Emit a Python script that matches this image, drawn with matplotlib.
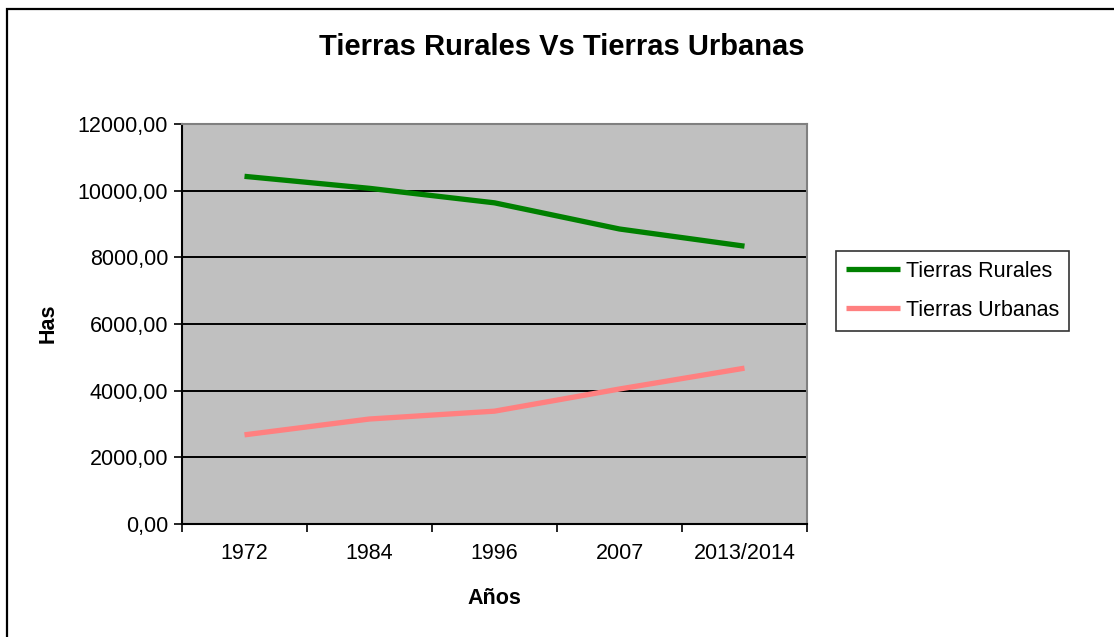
import matplotlib.pyplot as plt
from matplotlib.patches import Rectangle
from matplotlib.ticker import FixedLocator, FuncFormatter

years = ["1972", "1984", "1996", "2007", "2013/2014"]
rurales = [10430, 10070, 9635, 8850, 8335]
urbanas = [2675, 3150, 3385, 4050, 4675]

plt.rcParams['font.family'] = ['Liberation Sans', 'DejaVu Sans']

W, H = 1114, 637
fig = plt.figure(figsize=(W / 100, H / 100), dpi=100)
ax = fig.add_axes([182 / W, 1 - 524 / H, 625 / W, 400 / H])

# outer chart frame (runs off the right and bottom edge)
fig.patches.append(Rectangle((7 / W, -0.05), 1.1, 1.05 - 8.5 / H,
                             transform=fig.transFigure, fill=False,
                             edgecolor="black", linewidth=1.6))

x = range(len(years))
ax.plot(x, rurales, color="#008000", linewidth=3.8, label="Tierras Rurales",
        solid_capstyle="butt")
ax.plot(x, urbanas, color="#FF8080", linewidth=3.8, label="Tierras Urbanas",
        solid_capstyle="butt")

ax.set_facecolor("#C0C0C0")
ax.set_xlim(-0.5, len(years) - 0.5)
ax.set_ylim(0, 12000)
ax.set_yticks(range(0, 12001, 2000))
ax.yaxis.set_major_formatter(FuncFormatter(lambda v, p: f"{v:.2f}".replace(".", ",")))
ax.grid(axis="y", color="black", linewidth=1.4)
ax.set_axisbelow(True)

ax.set_xticks(list(x))
ax.set_xticklabels(years)
ax.xaxis.set_minor_locator(FixedLocator([i - 0.5 for i in range(len(years) + 1)]))
ax.tick_params(axis="x", which="major", length=0, pad=14, labelsize=15.5)
ax.tick_params(axis="x", which="minor", length=6, width=1.2, direction="out")
ax.tick_params(axis="y", length=6, width=1.2, pad=4, labelsize=15.5)

for side in ("left", "bottom"):
    ax.spines[side].set_color("black")
    ax.spines[side].set_linewidth(1.5)
for side in ("top", "right"):
    ax.spines[side].set_color("#808080")
    ax.spines[side].set_linewidth(1.5)

fig.text(562 / W, 1 - 47 / H, "Tierras Rurales Vs Tierras Urbanas",
         ha="center", va="center", fontsize=21, fontweight="bold")
fig.text(494 / W, 1 - 598 / H, "Años", ha="center", va="center",
         fontsize=15.5, fontweight="bold")
fig.text(48 / W, 1 - 323 / H, "Has", ha="center", va="center",
         rotation=90, fontsize=15.5, fontweight="bold")

leg = fig.legend(loc="upper left", bbox_to_anchor=(836 / W, 1 - 251 / H),
                 fontsize=15.5, frameon=True, fancybox=False,
                 edgecolor="black", handlelength=2.5, handletextpad=0.3,
                 labelspacing=0.85, borderpad=0.45, borderaxespad=0)
leg.get_frame().set_linewidth(1.2)

fig.savefig("out.png", dpi=100)
